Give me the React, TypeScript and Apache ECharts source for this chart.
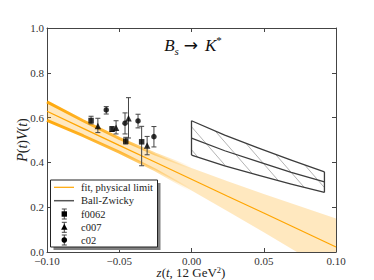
import React, { useEffect, useRef } from 'react';
import * as echarts from 'echarts';

// Fit band (physical limit)
const zBand = [-0.1, -0.075, -0.05, -0.025, 0, 0.025, 0.05, 0.075, 0.1];
const fitCentral = [0.628, 0.552, 0.476, 0.401, 0.325, 0.249, 0.174, 0.098, 0.022];
const fitUpper = [0.670, 0.586, 0.507, 0.437, 0.375, 0.316, 0.259, 0.204, 0.150];
const fitLower = [0.588, 0.519, 0.446, 0.366, 0.275, 0.182, 0.088, -0.008, -0.105];

// Ball-Zwicky band
const zBZ = [0, 0.023, 0.046, 0.069, 0.092];
const bzUpper = [0.586, 0.522, 0.465, 0.410, 0.358];
const bzCentral = [0.508, 0.452, 0.403, 0.356, 0.313];
const bzLower = [0.433, 0.385, 0.343, 0.303, 0.266];

// Lattice data
const f0062Z = [-0.0695, -0.055, -0.0455, -0.0345];
const f0062V = [0.587, 0.548, 0.495, 0.492];
const f0062Lo = [0.572, 0.538, 0.482, 0.385];
const f0062Hi = [0.606, 0.560, 0.512, 0.561];

const c007Z = [-0.0648, -0.0522, -0.0436, -0.0307];
const c007V = [0.563, 0.555, 0.597, 0.475];
const c007Lo = [0.533, 0.527, 0.509, 0.434];
const c007Hi = [0.597, 0.586, 0.689, 0.516];

const c02Z = [-0.059, -0.046, -0.037, -0.026];
const c02V = [0.634, 0.575, 0.585, 0.515];
const c02Lo = [0.616, 0.527, 0.554, 0.469];
const c02Hi = [0.649, 0.621, 0.615, 0.560];

const xTicks = { min: -0.1, max: 0.1, interval: 0.05 };
const yTicks = { min: 0, max: 1, interval: 0.2 };

const legendLabels = ['fit, physical limit', 'Ball-Zwicky', 'f0062', 'c007', 'c02'];

const FONT = 'Liberation Serif';
const ORANGE = '#FFA500';
const FRAME = '#444';

function zip(a: number[], b: number[]) {
  return a.map((v, i) => [v, b[i]]);
}

function errSeries(name: string, z: number[], lo: number[], hi: number[]) {
  return {
    type: 'custom',
    name: name + '-err',
    silent: true,
    z: 4,
    data: z.map((v, i) => [v, lo[i], hi[i]]),
    encode: { x: 0, y: [1, 2] },
    renderItem: (params: any, api: any) => {
      const x = api.value(0);
      const p1 = api.coord([x, api.value(1)]);
      const p2 = api.coord([x, api.value(2)]);
      const cw = 2.5;
      const st = { stroke: '#444', lineWidth: 1 };
      return {
        type: 'group',
        children: [
          { type: 'line', shape: { x1: p1[0], y1: p1[1], x2: p2[0], y2: p2[1] }, style: st },
          { type: 'line', shape: { x1: p1[0] - cw, y1: p1[1], x2: p1[0] + cw, y2: p1[1] }, style: st },
          { type: 'line', shape: { x1: p2[0] - cw, y1: p2[1], x2: p2[0] + cw, y2: p2[1] }, style: st },
        ],
      };
    },
  };
}

function interp(P: number[][], x: number) {
  for (let i = 0; i < P.length - 1; i++) {
    if (x >= P[i][0] && x <= P[i + 1][0]) {
      const t = (x - P[i][0]) / (P[i + 1][0] - P[i][0] || 1);
      return P[i][1] + t * (P[i + 1][1] - P[i][1]);
    }
  }
  return x < P[0][0] ? P[0][1] : P[P.length - 1][1];
}

export default function App() {
  const ref = useRef<HTMLDivElement>(null);
  useEffect(() => {
    if (!ref.current) return;
    const chart = echarts.init(ref.current, undefined, { renderer: 'svg' });

    const stripeGrad = () =>
      new echarts.graphic.LinearGradient(0, 0, 1, 0, [
        { offset: 0, color: 'rgba(255,165,0,0.95)' },
        { offset: 0.55, color: 'rgba(255,165,0,0.7)' },
        { offset: 1, color: 'rgba(255,165,0,0)' },
      ]);

    const legendY = [187.3, 200.7, 214, 227.3, 240];
    const lg: any[] = [];
    lg.push({ type: 'rect', shape: { x: 53.5, y: 183, width: 107, height: 67 }, style: { fill: '#808080' }, z: 100 });
    lg.push({ type: 'rect', shape: { x: 50.5, y: 180, width: 107, height: 67 }, style: { fill: '#fff', stroke: '#222', lineWidth: 1 }, z: 101 });
    lg.push({ type: 'line', shape: { x1: 54, y1: legendY[0], x2: 74, y2: legendY[0] }, style: { stroke: ORANGE, lineWidth: 1.2 }, z: 102 });
    lg.push({ type: 'line', shape: { x1: 54, y1: legendY[1], x2: 74, y2: legendY[1] }, style: { stroke: '#555', lineWidth: 1.5 }, z: 102 });
    const mx = 64.3;
    [2, 3, 4].forEach((k) => {
      const y = legendY[k];
      const st = { stroke: '#444', lineWidth: 1 };
      lg.push({ type: 'line', shape: { x1: mx, y1: y - 5, x2: mx, y2: y + 5 }, style: st, z: 102 });
      lg.push({ type: 'line', shape: { x1: mx - 2.5, y1: y - 5, x2: mx + 2.5, y2: y - 5 }, style: st, z: 102 });
      lg.push({ type: 'line', shape: { x1: mx - 2.5, y1: y + 5, x2: mx + 2.5, y2: y + 5 }, style: st, z: 102 });
    });
    lg.push({ type: 'rect', shape: { x: mx - 2.7, y: legendY[2] - 2.7, width: 5.4, height: 5.4 }, style: { fill: '#000' }, z: 103 });
    lg.push({ type: 'polygon', shape: { points: [[mx, legendY[3] - 3.5], [mx - 3.2, legendY[3] + 2.5], [mx + 3.2, legendY[3] + 2.5]] }, style: { fill: '#000' }, z: 103 });
    lg.push({ type: 'circle', shape: { cx: mx, cy: legendY[4], r: 2.8 }, style: { fill: '#000' }, z: 103 });
    legendLabels.forEach((t, i) => {
      lg.push({
        type: 'text', x: 81, y: legendY[i], z: 103,
        style: { text: t, font: `10.5px "${FONT}"`, fill: '#222', verticalAlign: 'middle' },
      });
    });

    const axisCommon = {
      axisLine: { show: true, onZero: false, lineStyle: { color: FRAME, width: 1 } },
      axisTick: { show: true, inside: true, length: 4, lineStyle: { color: FRAME } },
      splitLine: { show: false },
    };

    const option: any = {
      animation: false,
      backgroundColor: '#fff',
      grid: { left: 47, right: 38, top: 28, bottom: 28, containLabel: false },
      xAxis: [
        {
          type: 'value', ...xTicks, position: 'bottom', ...axisCommon,
          axisLabel: {
            fontFamily: FONT, fontSize: 11, color: '#333', margin: 3,
            formatter: (v: number) => (Math.abs(v) < 1e-9 ? '0.00' : (v < 0 ? '\u2212' : '') + Math.abs(v).toFixed(2)),
          },
        },
        { type: 'value', ...xTicks, position: 'top', ...axisCommon, axisLabel: { show: false } },
      ],
      yAxis: [
        {
          type: 'value', ...yTicks, position: 'left', ...axisCommon,
          axisLabel: { fontFamily: FONT, fontSize: 11, color: '#333', margin: 3, formatter: (v: number) => v.toFixed(1) },
        },
        { type: 'value', ...yTicks, position: 'right', ...axisCommon, axisLabel: { show: false } },
      ],
      graphic: [
        {
          type: 'text', x: 193, y: 45, z: 50,
          style: {
            text: '{b|B}{s|s}{n|\u2192}{b|K}{sup|*}',
            align: 'center', verticalAlign: 'middle',
            rich: {
              b: { fontFamily: FONT, fontStyle: 'italic', fontSize: 17, lineHeight: 22, verticalAlign: 'middle', fill: '#111' },
              s: { fontFamily: FONT, fontStyle: 'italic', fontSize: 11, lineHeight: 11, verticalAlign: 'bottom', fill: '#111' },
              n: { fontFamily: 'DejaVu Sans', fontSize: 17, lineHeight: 22, verticalAlign: 'middle', fill: '#111', padding: [0, 7, 0, 5] },
              sup: { fontFamily: FONT, fontSize: 11, lineHeight: 11, verticalAlign: 'top', fill: '#111' },
            },
          },
        },
        {
          type: 'text', x: 22, y: 140, rotation: Math.PI / 2, z: 50,
          style: {
            text: '{i|P}{r|(}{i|t}{r|)}{i|V}{r|(}{i|t}{r|)}',
            align: 'center', verticalAlign: 'middle',
            rich: {
              i: { fontFamily: FONT, fontStyle: 'italic', fontSize: 14, fill: '#222' },
              r: { fontFamily: FONT, fontSize: 14, fill: '#222' },
            },
          },
        },
        {
          type: 'text', x: 191, y: 272.5, z: 50,
          style: {
            text: '{i|z}{r|(}{i|t}{r|, 12 GeV}{sup|2}{r|)}',
            align: 'center', verticalAlign: 'middle',
            rich: {
              i: { fontFamily: FONT, fontStyle: 'italic', fontSize: 13, lineHeight: 15, verticalAlign: 'middle', fill: '#222' },
              r: { fontFamily: FONT, fontSize: 13, lineHeight: 15, verticalAlign: 'middle', fill: '#222' },
              sup: { fontFamily: FONT, fontSize: 8.5, lineHeight: 9, verticalAlign: 'top', fill: '#222' },
            },
          },
        },
        ...lg,
      ],
      series: [
        {
          type: 'custom', name: 'band', silent: true, clip: true, z: 1,
          data: [[0, 0]],
          renderItem: (params: any, api: any) => {
            const up = zBand.map((z, i) => api.coord([z, fitUpper[i]]));
            const lo = zBand.map((z, i) => api.coord([z, fitLower[i]])).reverse();
            return { type: 'polygon', shape: { points: up.concat(lo) }, style: { fill: 'rgba(255,165,0,0.25)' } };
          },
        },
        {
          type: 'line', name: 'stripeU', silent: true, z: 2, symbol: 'none',
          data: zip(zBand.slice(0, 5), fitUpper.slice(0, 5)),
          lineStyle: { width: 3, color: stripeGrad() },
        },
        {
          type: 'line', name: 'stripeL', silent: true, z: 2, symbol: 'none',
          data: zip(zBand.slice(0, 5), fitLower.slice(0, 5)),
          lineStyle: { width: 3, color: stripeGrad() },
        },
        {
          type: 'line', name: 'fit, physical limit', silent: true, z: 3, symbol: 'none',
          data: zip(zBand, fitCentral),
          lineStyle: { width: 1.2, color: ORANGE },
        },
        {
          type: 'custom', name: 'Ball-Zwicky', silent: true, z: 3,
          data: [[0, 0]],
          renderItem: (params: any, api: any) => {
            const U = zBZ.map((z, i) => api.coord([z, bzUpper[i]]));
            const C = zBZ.map((z, i) => api.coord([z, bzCentral[i]]));
            const L = zBZ.map((z, i) => api.coord([z, bzLower[i]]));
            const x0 = U[0][0];
            const x1 = U[U.length - 1][0];
            const children: any[] = [];
            const slope = 1.15;
            const cs = U.map((p) => p[1] - slope * p[0]);
            const cl = L.map((p) => p[1] - slope * p[0]);
            const cMin = Math.min(...cs);
            const cMax = Math.max(...cl);
            const spacing = 23;
            const base = U[0][1] - slope * x0 + 6;
            for (let k = -30; k <= 30; k++) {
              const c = base + k * spacing;
              if (c < cMin - 1 || c > cMax + 1) continue;
              let first: number[] | null = null;
              let last: number[] | null = null;
              for (let x = x0; x <= x1 + 0.001; x += 0.25) {
                const y = slope * x + c;
                if (y >= interp(U, x) && y <= interp(L, x)) {
                  if (!first) first = [x, y];
                  last = [x, y];
                }
              }
              if (first && last && (last[0] - first[0]) > 0.5) {
                children.push({ type: 'line', shape: { x1: first[0], y1: first[1], x2: last[0], y2: last[1] }, style: { stroke: '#aaaaaa', lineWidth: 0.9 } });
              }
            }
            const st = { stroke: '#3c3c3c', lineWidth: 1.3, fill: null };
            children.push({ type: 'polyline', shape: { points: U }, style: st });
            children.push({ type: 'polyline', shape: { points: C }, style: st });
            children.push({ type: 'polyline', shape: { points: L }, style: st });
            children.push({ type: 'line', shape: { x1: U[0][0], y1: U[0][1], x2: L[0][0], y2: L[0][1] }, style: st });
            const n = U.length - 1;
            children.push({ type: 'line', shape: { x1: U[n][0], y1: U[n][1], x2: L[n][0], y2: L[n][1] }, style: st });
            return { type: 'group', children };
          },
        },
        errSeries('f0062', f0062Z, f0062Lo, f0062Hi),
        errSeries('c007', c007Z, c007Lo, c007Hi),
        errSeries('c02', c02Z, c02Lo, c02Hi),
        { type: 'scatter', name: 'f0062', z: 5, symbol: 'rect', symbolSize: 5.5, itemStyle: { color: '#000' }, data: zip(f0062Z, f0062V) },
        { type: 'scatter', name: 'c007', z: 5, symbol: 'triangle', symbolSize: 6.5, itemStyle: { color: '#000' }, data: zip(c007Z, c007V) },
        { type: 'scatter', name: 'c02', z: 5, symbol: 'circle', symbolSize: 5.5, itemStyle: { color: '#000' }, data: zip(c02Z, c02V) },
      ],
    };
    chart.setOption(option);
    return () => chart.dispose();
  }, []);
  return <div ref={ref} style={{ position: 'fixed', left: 0, top: 0, width: 374, height: 280, background: '#fff' }} />;
}
